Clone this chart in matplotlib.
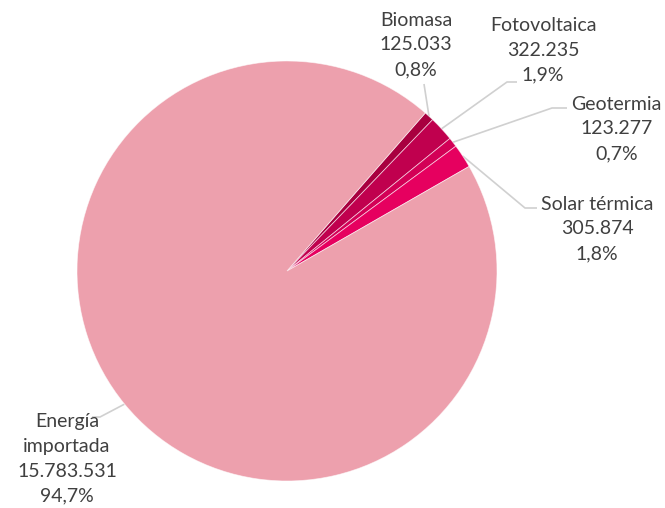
import matplotlib
matplotlib.use("Agg")
import matplotlib.pyplot as plt
import numpy as np

categories = ["Biomasa", "Fotovoltaica", "Geotermia", "Solar térmica", "Energía\nimportada"]
values = [125033, 322235, 123277, 305874, 15783531]
colors = ["#A8003F", "#C0004E", "#D30056", "#E6005F", "#EDA0AD"]

W, H = 665, 508
fig = plt.figure(figsize=(W / 100, H / 100), dpi=100)
ax = fig.add_axes([0, 0, 1, 1])

cx, cy, r = 287, H - 271, 210
wedges, _ = ax.pie(values, colors=colors, startangle=48.8, counterclock=False,
                   center=(cx, cy), radius=r, frame=True,
                   wedgeprops=dict(edgecolor=(1, 1, 1, 0.6), linewidth=0.6))
ax.set_xlim(0, W)
ax.set_ylim(0, H)
ax.set_aspect("equal")
ax.axis("off")

total = sum(values)

def fmt_int(v):
    return f"{v:,}".replace(",", ".")

def fmt_pct(v):
    return f"{100 * v / total:.1f}%".replace(".", ",")

# label layout (pixel coords from top): text anchor, ha, elbow points
layout = [
    dict(xy=(416, 45), ha="center", path=[(424, 84)]),
    dict(xy=(543, 50), ha="center", path=[(507, 82), (517, 82)]),
    dict(xy=(662, 129), ha="right", path=[(552, 108), (567, 108)]),
    dict(xy=(597, 229), ha="center", path=[(525, 208), (537, 208)]),
    dict(xy=(67, 459), ha="center", path=[(100, 417), (92, 417)]),
]

line_col = "#D0D0D0"
txt_col = "#404040"
for w, cat, v, lay in zip(wedges, categories, values, layout):
    mid = np.deg2rad((w.theta1 + w.theta2) / 2)
    ex, ey = cx + r * np.cos(mid), cy + r * np.sin(mid)
    pts = [(ex, ey)] + [(px, H - py) for px, py in lay["path"]]
    xs, ys = zip(*pts)
    ax.plot(xs, ys, color=line_col, lw=1.2, solid_capstyle="butt", zorder=0.5)
    label = f"{cat}\n{fmt_int(v)}\n{fmt_pct(v)}"
    ax.text(lay["xy"][0], H - lay["xy"][1], label, ha=lay["ha"], va="center",
            multialignment="center", fontsize=14, family="Lato", color=txt_col,
            linespacing=1.55)

fig.savefig("out.png", dpi=100)
